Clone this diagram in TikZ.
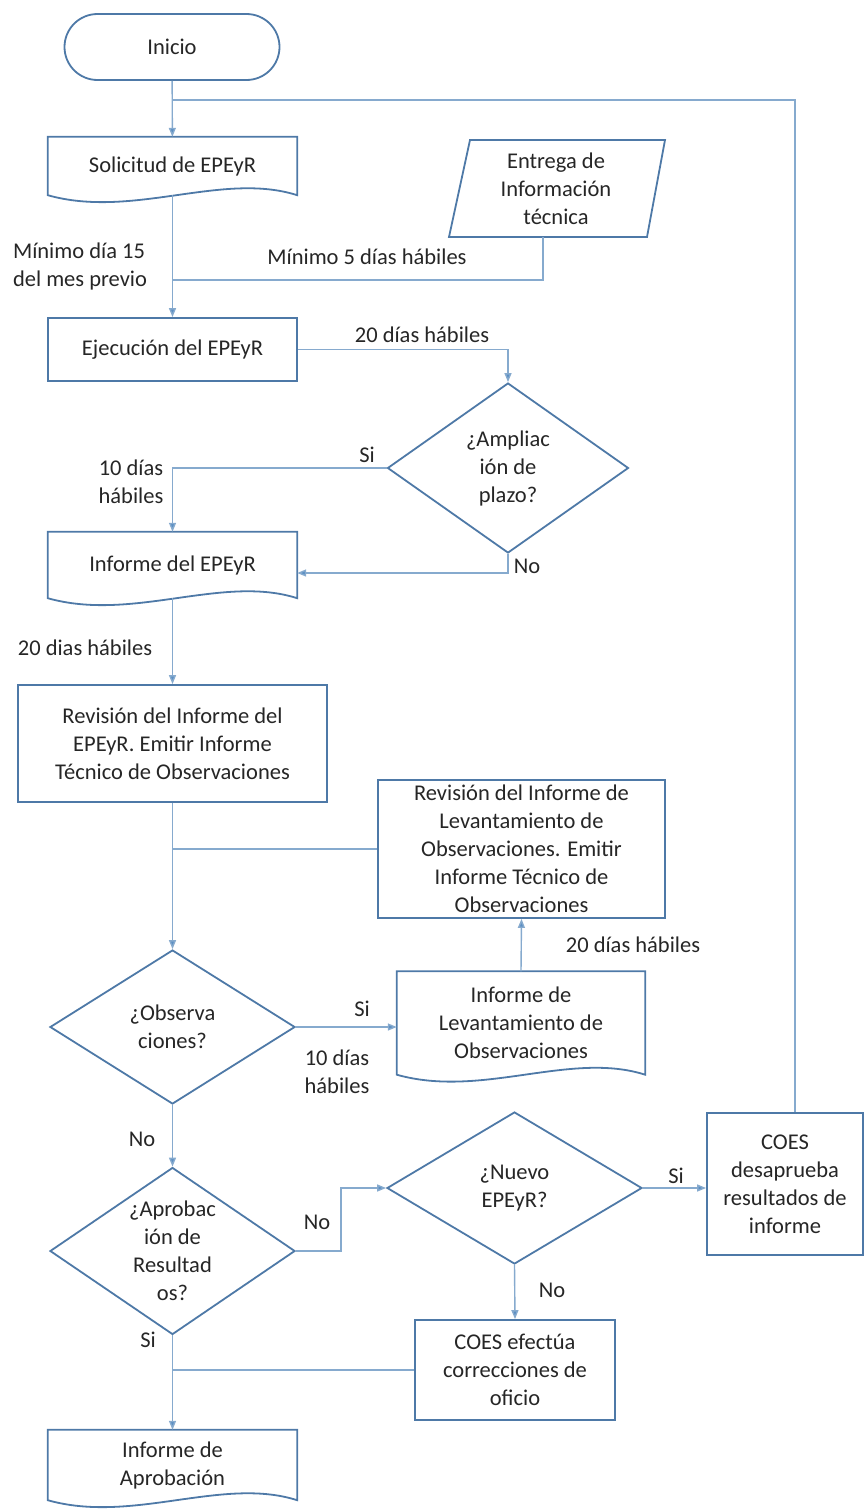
\documentclass[tikz,border=0pt]{standalone}
\usepackage{fontspec}
\setmainfont{Carlito}
\usetikzlibrary{shapes.geometric, arrows.meta}
\definecolor{boxline}{HTML}{4E79A7}
\definecolor{flowline}{HTML}{86AACE}
\definecolor{tipblue}{HTML}{5B8FC4}
\definecolor{inktext}{HTML}{262626}
\tikzset{
	box/.style={draw=boxline, line width=1.8pt, fill=white, align=center, inner sep=0pt, text=inktext},
	doc/.style={align=center, inner sep=0pt, text=inktext},
	decision/.style={diamond, draw=boxline, line width=1.8pt, fill=white, align=center, inner sep=0pt, aspect=1.4, text=inktext},
	flow/.style={draw=flowline, line width=1.4pt},
	lbl/.style={text=inktext, inner sep=1pt}
}
% documento con borde ondulado
\newcommand{\docshape}[1]{\draw[draw=boxline, line width=1.8pt] (#1.north west) -- (#1.north east) -- (#1.south east) .. controls +(-75,-24) and +(85,24) .. (#1.south west) -- cycle;}
\begin{document}
\begin{tikzpicture}[>={Triangle[length=9pt, width=7pt, fill=tipblue]}, x=1pt, y=-1pt, font=\fontsize{22.5}{28}\selectfont]
	\useasboundingbox (0,0) rectangle (865,1510);
	% bloques
	\node[box, rounded corners=33pt, minimum width=215pt, minimum height=66pt] (inicio) at (172,47) {Inicio};
	\node[doc, minimum width=249pt, minimum height=58pt] (solicitud) at (172.5,166) {Solicitud de EPEyR};
	\docshape{solicitud}
	\draw[draw=boxline, line width=1.8pt] (470,140) -- (665,140) -- (647,237) -- (449,237) -- cycle;
	\node[doc] (entrega) at (556,189) {Entrega de\\Información\\técnica};
	\coordinate (entregabot) at (543,237);
	\node[box, minimum width=249pt, minimum height=63pt] (ejecucion) at (172.5,349.5) {Ejecución del EPEyR};
	\node[decision, minimum width=241pt, minimum height=170pt] (ampliacion) at (508,468) {¿Ampliac\\ión de\\plazo?};
	\node[doc, minimum width=249pt, minimum height=66pt] (informe) at (172.5,565) {Informe del EPEyR};
	\docshape{informe}
	\node[box, minimum width=309pt, minimum height=117pt] (revision) at (172.5,743.5) {Revisión del Informe del\\EPEyR. Emitir Informe\\Técnico de Observaciones};
	\node[box, minimum width=287pt, minimum height=138pt] (revlevant) at (521.5,849) {Revisión del Informe de\\Levantamiento de\\Observaciones. Emitir\\Informe Técnico de\\Observaciones};
	\node[decision, minimum width=245pt, minimum height=154pt] (observ) at (172.5,1027) {¿Observa\\ciones?};
	\node[doc, minimum width=248pt, minimum height=103pt] (levant) at (521,1023) {Informe de\\Levantamiento de\\Observaciones};
	\docshape{levant}
	\node[decision, minimum width=245pt, minimum height=167pt] (aprob) at (172.5,1251) {¿Aprobac\\ión de\\Resultad\\os?};
	\node[decision, minimum width=255pt, minimum height=152pt] (nuevo) at (514.5,1188) {¿Nuevo\\EPEyR?};
	\node[box, minimum width=156pt, minimum height=142pt] (coesdes) at (785,1184) {COES\\desaprueba\\resultados de\\informe};
	\node[box, minimum width=200pt, minimum height=100pt] (coesef) at (515,1370) {COES efectúa\\correcciones de\\oficio};
	\node[doc, minimum width=249pt, minimum height=70pt] (aprobinf) at (172.5,1465) {Informe de\\Aprobación};
	\docshape{aprobinf}
	% conectores
	\coordinate (loop) at (172.5,100);
	\draw[flow] ([xshift=10pt]coesdes.north) |- (loop);
	\draw[flow, ->] (inicio) -- (solicitud);
	\draw[flow, ->] (solicitud.south) -- (ejecucion.north);
	\draw[flow] (entregabot) |- (172.5,280);
	\draw[flow, ->] (ejecucion.east) -| (ampliacion.north);
	\draw[flow, ->] (ampliacion.west) -| (informe.north);
	\draw[flow, ->] (ampliacion.south) |- ([yshift=-8pt]informe.east);
	\draw[flow, ->] (informe.south) -- (revision.north);
	\draw[flow, ->] (revision.south) -- (observ.north);
	\draw[flow] (revlevant.west) -- (revlevant.west -| revision.south);
	\draw[flow, ->] (observ.east) -- (observ.east -| levant.west);
	\draw[flow, ->] (levant.north) -- (revlevant.south);
	\draw[flow, ->] (observ.south) -- (aprob.north);
	\draw[flow, ->] (aprob.east) -- ++(45,0) |- (nuevo.west);
	\draw[flow, ->] (nuevo.east) -- (coesdes.west |- nuevo.east);
	\draw[flow, ->] (nuevo.south) -- (coesef.north);
	\draw[flow] (coesef.west) -- (coesef.west -| aprob.south);
	\draw[flow, ->] (aprob.south) -- (aprobinf.north);
	% etiquetas
	\node[lbl, align=left] (lminimo) at (80,266) {Mínimo día 15\\del mes previo};
	\node[lbl] (lcinco) at (367,257) {Mínimo 5 días hábiles};
	\node[lbl] (lveinte) at (422,335) {20 días hábiles};
	\node[lbl] (lsi) at (367,455) {Si};
	\node[lbl, align=center] (ldiez) at (131,482) {10 días\\hábiles};
	\node[lbl] (lno) at (527,566) {No};
	\node[lbl] (lveintedos) at (85,648) {20 dias hábiles};
	\node[lbl] (lsiobs) at (362,1009) {Si};
	\node[lbl, align=center] (ldiezobs) at (337,1072) {10 días\\hábiles};
	\node[lbl] (lveintelev) at (633,945) {20 días hábiles};
	\node[lbl] (lnoobs) at (142,1139) {No};
	\node[lbl] (lnoaprob) at (317,1222) {No};
	\node[lbl] (lsinuevo) at (676,1176) {Si};
	\node[lbl] (lnonuevo) at (552,1290) {No};
	\node[lbl] (lsiaprob) at (148,1340) {Si};
\end{tikzpicture}
\end{document}
